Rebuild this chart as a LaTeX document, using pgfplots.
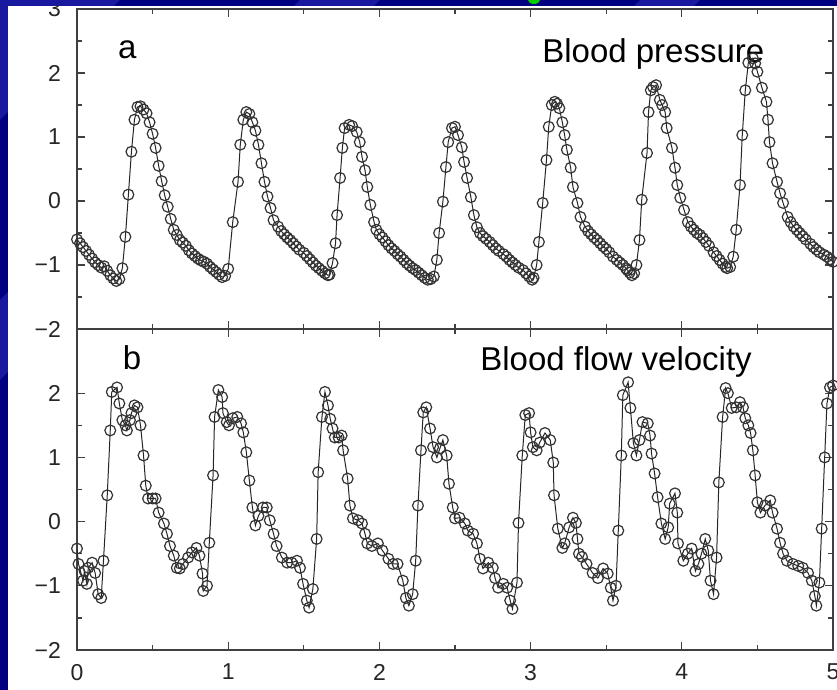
\documentclass[border=0pt]{standalone}
\usepackage{fontspec}
\setmainfont{Liberation Sans}
\usepackage{pgfplots}
\pgfplotsset{compat=1.18}
\definecolor{navy}{RGB}{0,0,128}
\definecolor{streak}{RGB}{25,25,160}

\pgfplotstableread{
x y
0.00 -0.60
0.02 -0.66
0.04 -0.72
0.06 -0.78
0.08 -0.84
0.10 -0.90
0.12 -0.96
0.14 -1.00
0.16 -1.04
0.18 -1.02
0.20 -1.09
0.22 -1.16
0.24 -1.21
0.26 -1.25
0.28 -1.22
0.30 -1.05
0.32 -0.56
0.34 0.10
0.36 0.77
0.38 1.27
0.40 1.47
0.42 1.48
0.44 1.43
0.46 1.37
0.48 1.23
0.50 1.05
0.52 0.83
0.54 0.55
0.56 0.31
0.58 0.09
0.60 -0.09
0.62 -0.28
0.64 -0.45
0.66 -0.53
0.68 -0.61
0.70 -0.65
0.72 -0.70
0.74 -0.77
0.76 -0.82
0.78 -0.86
0.80 -0.90
0.82 -0.93
0.84 -0.95
0.86 -0.98
0.88 -1.03
0.90 -1.07
0.92 -1.11
0.94 -1.15
0.96 -1.19
0.98 -1.17
1.00 -1.06
1.03 -0.33
1.065 0.30
1.08 0.88
1.10 1.27
1.12 1.39
1.14 1.36
1.16 1.23
1.18 1.10
1.20 0.88
1.22 0.59
1.24 0.30
1.26 0.07
1.28 -0.11
1.30 -0.30
1.33 -0.40
1.35 -0.47
1.37 -0.52
1.39 -0.57
1.41 -0.61
1.43 -0.66
1.45 -0.71
1.47 -0.76
1.50 -0.81
1.52 -0.86
1.54 -0.91
1.56 -0.96
1.58 -1.01
1.60 -1.05
1.62 -1.09
1.64 -1.13
1.66 -1.16
1.67 -1.15
1.69 -0.97
1.71 -0.66
1.72 -0.22
1.74 0.36
1.755 0.83
1.77 1.14
1.80 1.19
1.82 1.17
1.85 1.08
1.87 0.92
1.885 0.69
1.905 0.48
1.92 0.22
1.94 -0.06
1.965 -0.33
1.98 -0.45
2.00 -0.52
2.02 -0.57
2.04 -0.63
2.06 -0.69
2.08 -0.74
2.10 -0.78
2.12 -0.83
2.14 -0.87
2.16 -0.92
2.18 -0.97
2.20 -1.01
2.22 -1.05
2.24 -1.08
2.26 -1.12
2.28 -1.16
2.30 -1.20
2.32 -1.23
2.34 -1.22
2.36 -1.18
2.38 -0.92
2.395 -0.50
2.42 -0.01
2.44 0.53
2.455 0.92
2.48 1.14
2.50 1.16
2.52 1.03
2.545 0.84
2.56 0.61
2.58 0.36
2.605 0.06
2.625 -0.22
2.645 -0.41
2.665 -0.50
2.685 -0.55
2.705 -0.59
2.73 -0.64
2.75 -0.69
2.77 -0.74
2.79 -0.78
2.82 -0.83
2.84 -0.87
2.86 -0.92
2.88 -0.96
2.90 -1.00
2.92 -1.04
2.95 -1.08
2.97 -1.13
2.99 -1.18
3.01 -1.23
3.02 -1.20
3.04 -1.00
3.055 -0.64
3.08 -0.03
3.105 0.64
3.12 1.16
3.14 1.50
3.16 1.55
3.175 1.52
3.19 1.45
3.21 1.23
3.225 1.03
3.24 0.80
3.265 0.52
3.28 0.22
3.31 -0.03
3.33 -0.25
3.36 -0.40
3.38 -0.47
3.40 -0.52
3.42 -0.57
3.44 -0.61
3.46 -0.66
3.48 -0.71
3.50 -0.75
3.52 -0.80
3.545 -0.87
3.57 -0.92
3.59 -0.96
3.61 -1.00
3.63 -1.05
3.64 -1.08
3.655 -1.12
3.67 -1.16
3.685 -1.13
3.70 -1.00
3.72 -0.61
3.735 0.02
3.77 0.75
3.78 1.39
3.795 1.73
3.81 1.78
3.83 1.81
3.855 1.58
3.87 1.50
3.89 1.39
3.90 1.14
3.935 0.83
3.955 0.52
3.97 0.25
3.99 0.05
4.015 -0.14
4.04 -0.33
4.06 -0.40
4.08 -0.45
4.10 -0.50
4.12 -0.53
4.14 -0.58
4.16 -0.64
4.18 -0.70
4.21 -0.80
4.23 -0.86
4.25 -0.92
4.27 -0.98
4.29 -1.03
4.30 -1.05
4.32 -1.03
4.34 -0.87
4.36 -0.45
4.385 0.25
4.40 1.03
4.42 1.73
4.44 2.16
4.47 2.23
4.485 2.15
4.50 2.02
4.53 1.77
4.56 1.55
4.57 1.27
4.58 0.92
4.60 0.59
4.63 0.30
4.65 0.12
4.67 -0.03
4.70 -0.25
4.72 -0.33
4.74 -0.40
4.76 -0.45
4.78 -0.50
4.80 -0.55
4.82 -0.60
4.85 -0.67
4.87 -0.72
4.89 -0.76
4.91 -0.80
4.94 -0.84
4.96 -0.87
4.98 -0.91
5.00 -0.95
}\pressure

\pgfplotstableread{
x y
0.00 -0.42
0.01 -0.66
0.04 -0.92
0.05 -0.77
0.065 -0.97
0.075 -0.72
0.10 -0.64
0.12 -0.80
0.14 -1.13
0.16 -1.19
0.175 -0.61
0.20 0.41
0.22 1.42
0.23 2.02
0.265 2.09
0.28 1.84
0.30 1.58
0.32 1.50
0.33 1.42
0.35 1.58
0.36 1.69
0.38 1.81
0.40 1.78
0.42 1.50
0.44 1.03
0.455 0.56
0.47 0.36
0.50 0.36
0.52 0.36
0.54 0.14
0.575 -0.03
0.595 -0.19
0.615 -0.38
0.64 -0.53
0.66 -0.72
0.68 -0.73
0.70 -0.66
0.735 -0.56
0.76 -0.48
0.79 -0.41
0.81 -0.53
0.83 -0.81
0.835 -1.08
0.86 -1.00
0.875 -0.33
0.90 0.72
0.91 1.63
0.935 2.05
0.96 1.94
0.965 1.69
0.99 1.55
1.005 1.50
1.03 1.61
1.06 1.63
1.085 1.53
1.10 1.39
1.12 1.08
1.14 0.64
1.16 0.22
1.18 -0.06
1.20 0.09
1.23 0.22
1.255 0.22
1.275 0.02
1.30 -0.19
1.32 -0.38
1.355 -0.56
1.39 -0.64
1.42 -0.64
1.455 -0.61
1.475 -0.72
1.495 -0.97
1.52 -1.23
1.535 -1.34
1.56 -1.05
1.585 -0.27
1.595 0.77
1.62 1.63
1.64 2.02
1.66 1.81
1.675 1.60
1.69 1.45
1.705 1.31
1.73 1.31
1.75 1.34
1.76 1.11
1.79 0.67
1.805 0.25
1.825 0.05
1.86 0.02
1.885 -0.03
1.905 -0.19
1.92 -0.34
1.95 -0.38
1.99 -0.34
2.02 -0.45
2.06 -0.58
2.09 -0.66
2.12 -0.66
2.155 -0.92
2.175 -1.19
2.195 -1.31
2.22 -1.13
2.24 -0.61
2.255 0.25
2.275 1.11
2.29 1.70
2.31 1.78
2.335 1.45
2.355 1.16
2.38 1.00
2.40 1.14
2.42 1.27
2.445 1.03
2.46 0.59
2.485 0.22
2.50 0.05
2.53 0.06
2.565 -0.03
2.585 -0.14
2.62 -0.19
2.645 -0.34
2.665 -0.58
2.685 -0.73
2.72 -0.64
2.75 -0.72
2.765 -0.88
2.785 -1.03
2.82 -0.97
2.845 -1.03
2.865 -1.23
2.88 -1.36
2.91 -0.95
2.92 -0.02
2.945 1.03
2.965 1.66
2.99 1.69
3.00 1.39
3.015 1.16
3.04 1.11
3.06 1.23
3.095 1.38
3.13 1.27
3.15 0.92
3.155 0.41
3.18 -0.11
3.21 -0.41
3.225 -0.34
3.255 -0.09
3.28 0.06
3.30 -0.02
3.31 -0.27
3.32 -0.50
3.34 -0.55
3.37 -0.66
3.41 -0.80
3.445 -0.88
3.48 -0.73
3.51 -0.81
3.53 -1.03
3.545 -1.23
3.565 -1.00
3.58 -0.14
3.60 1.03
3.61 1.97
3.645 2.17
3.66 1.77
3.68 1.22
3.70 1.03
3.72 1.27
3.74 1.55
3.775 1.53
3.79 1.34
3.80 1.06
3.82 0.75
3.84 0.38
3.865 -0.03
3.89 -0.27
3.91 -0.09
3.92 0.28
3.955 0.44
3.97 0.14
3.975 -0.34
4.01 -0.61
4.04 -0.50
4.065 -0.42
4.09 -0.77
4.11 -0.66
4.13 -0.50
4.155 -0.27
4.175 -0.45
4.19 -0.92
4.21 -1.13
4.23 -0.56
4.245 0.61
4.27 1.63
4.29 2.08
4.305 2.00
4.33 1.77
4.36 1.78
4.385 1.86
4.405 1.78
4.42 1.61
4.44 1.50
4.455 1.38
4.47 1.11
4.485 0.72
4.50 0.30
4.52 0.14
4.55 0.25
4.585 0.33
4.60 0.14
4.63 -0.11
4.65 -0.33
4.67 -0.50
4.695 -0.61
4.735 -0.66
4.77 -0.69
4.80 -0.72
4.835 -0.80
4.86 -0.92
4.88 -1.16
4.89 -1.31
4.91 -0.95
4.925 -0.11
4.945 1.00
4.96 1.84
4.98 2.09
5.00 2.12
}\velocity

\pgfplotsset{
  panel/.style={
    scale only axis, width=378pt, height=160pt,
    xmin=0, xmax=5, ymin=-2, ymax=3,
    xtick={0,1,2,3,4,5}, minor x tick num=1, minor y tick num=1,
    tick align=inside, major tick length=4pt, minor tick length=2.5pt,
    axis line style={line width=1pt, black!75},
    tick style={black!75, line width=0.6pt},
    ticklabel style={font=\fontsize{11.5}{13}\selectfont, black!85},
    yticklabel style={xshift=-4.5pt},
    xticklabel style={yshift=-3.5pt},
    axis background/.style={fill=white},
  },
  trace/.style={black!85, line width=0.5pt, mark=o, mark size=2.7pt,
    mark options={line width=0.6pt, black!80}},
}

\begin{document}
\begin{tikzpicture}
\fill[navy] (0,0) rectangle (418.5pt,-345pt);
\fill[streak] (0,0) -- (60pt,0) -- (0,-60pt) -- cycle;
\fill[streak] (150pt,0) -- (190pt,0) -- (0,-190pt) -- (0,-150pt) -- cycle;
\fill[streak] (320pt,0) -- (350pt,0) -- (340pt,-10pt) -- (310pt,-10pt) -- cycle;
\fill[green!80!black] (267pt,0pt) ellipse (3pt and 2pt);
\fill[white] (4pt,-3pt) rectangle (418.5pt,-345pt);
\begin{scope}
\clip (4pt,-3pt) rectangle (418.5pt,-345pt);
\begin{axis}[panel, at={(38.5pt,-164.5pt)}, anchor=south west,
  ytick={-2,-1,0,1,2,3}, yticklabels={−2,−1,0,1,2,3}, xticklabels={}]
  \addplot[trace] table {\pressure};
  \node[anchor=base west, font=\fontsize{16.5}{18}\selectfont, inner sep=0pt] at (axis cs:0.27,2.23) {a};
  \node[anchor=base west, font=\fontsize{16.5}{18}\selectfont, inner sep=0pt] at (axis cs:3.075,2.16) {Blood pressure};
\end{axis}
\begin{axis}[panel, at={(38.5pt,-325pt)}, anchor=south west, height=160.5pt,
  ytick={-2,-1,0,1,2}, yticklabels={−2,−1,0,1,2}, xticklabels={0,1,2,3,4,5}]
  \addplot[trace] table {\velocity};
  \node[anchor=base west, font=\fontsize{16.5}{18}\selectfont, inner sep=0pt] at (axis cs:0.30,2.375) {b};
  \node[anchor=base west, font=\fontsize{16.5}{18}\selectfont, inner sep=0pt] at (axis cs:2.665,2.36) {Blood flow velocity};
\end{axis}
\end{scope}
\pgfresetboundingbox
\useasboundingbox (0,0) rectangle (418.5pt,-345pt);
\end{tikzpicture}
\end{document}
